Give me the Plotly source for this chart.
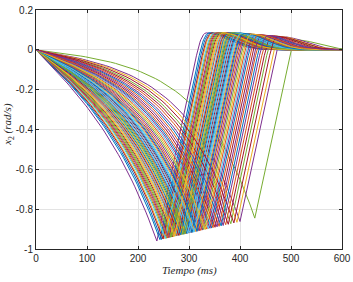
import numpy as np
import plotly.graph_objects as go

# time of each curve's minimum (ms)
t_min = [290, 262, 318, 237, 429, 274, 300, 246, 335, 282,
         400, 256, 308, 268, 344, 294, 251, 326, 382, 278,
         304, 243, 359, 286, 314, 264, 338, 249, 296, 372,
         270, 320, 288, 254, 351, 306, 276, 394, 260, 329,
         298, 280, 363, 258, 312, 341, 266, 302, 377, 284,
         323, 272, 355, 292, 310, 388, 316, 347, 332, 367]
# minimum value of each curve (rad/s)
v_min = [-0.926, -0.942, -0.910, -0.960, -0.845, -0.935, -0.920, -0.952, -0.900, -0.931,
         -0.862, -0.946, -0.916, -0.939, -0.895, -0.924, -0.949, -0.905, -0.873, -0.933,
         -0.918, -0.953, -0.886, -0.928, -0.912, -0.941, -0.898, -0.950, -0.923, -0.878,
         -0.938, -0.909, -0.927, -0.947, -0.891, -0.917, -0.934, -0.866, -0.943, -0.903,
         -0.921, -0.932, -0.884, -0.945, -0.913, -0.896, -0.940, -0.919, -0.876, -0.929,
         -0.907, -0.936, -0.889, -0.925, -0.915, -0.869, -0.911, -0.893, -0.902, -0.882]
# overshoot peak of each curve (rad/s)
v_peak = [0.085, 0.085, 0.081, 0.085, 0.050, 0.085, 0.085, 0.085, 0.078, 0.085,
          0.065, 0.085, 0.083, 0.085, 0.076, 0.085, 0.085, 0.080, 0.069, 0.085,
          0.084, 0.085, 0.073, 0.085, 0.082, 0.085, 0.077, 0.085, 0.085, 0.071,
          0.085, 0.081, 0.085, 0.085, 0.075, 0.084, 0.085, 0.066, 0.085, 0.079,
          0.085, 0.085, 0.072, 0.085, 0.083, 0.077, 0.085, 0.085, 0.070, 0.085,
          0.080, 0.085, 0.074, 0.085, 0.083, 0.067, 0.082, 0.076, 0.079, 0.072]
rise_rate = 0.012      # slope of the recovery ramps (rad/s per ms)
settle_tau = 60.0      # decay time of the overshoot (ms)

x_ticks = [0, 100, 200, 300, 400, 500, 600]
y_ticks = [0.2, 0, -0.2, -0.4, -0.6, -0.8, -1]
y_tick_labels = ["0.2", "0", "-0.2", "-0.4", "-0.6", "-0.8", "-1"]

colors = ["#0072BD", "#D95319", "#EDB120", "#7E2F8E", "#77AC30", "#4DBEEE", "#A2142F"]

fig = go.Figure()
for i, (tm, vm, vp) in enumerate(zip(t_min, v_min, v_peak)):
    k = 0.007 + (tm - 237) * 0.0000104
    td = np.linspace(0, tm, 45)
    vd = vm * np.sinh(k * td) / np.sinh(k * tm)
    v1 = -0.03
    t1 = tm + (v1 - vm) / rise_rate
    tp = t1 + 2 * (vp - v1) / rise_rate
    u = np.linspace(0, 1, 12)[1:]
    tr = t1 + u * (tp - t1)
    vr = v1 + (vp - v1) * (1 - (1 - u) ** 2)
    tdec = np.linspace(tp, 600, 50)[1:]
    vdec = vp * np.exp(-((tdec - tp) / settle_tau) ** 2)
    t = np.concatenate([td, [t1], tr, tdec])
    v = np.concatenate([vd, [v1], vr, vdec])
    fig.add_trace(go.Scatter(x=t, y=v, mode="lines",
                             line=dict(color=colors[i % 7], width=1),
                             showlegend=False, hoverinfo="skip"))

axis_common = dict(showgrid=True, gridcolor="#e3e3e3", gridwidth=1, automargin=False,
                   showline=True, linecolor="#262626", linewidth=1, mirror="ticks",
                   ticks="inside", ticklen=3, tickcolor="#262626", zeroline=False,
                   tickfont=dict(family="Liberation Sans, Arial", size=10, color="#262626"))

fig.update_xaxes(range=[0, 600], tickvals=x_ticks, ticktext=[str(x) for x in x_ticks],
                 **axis_common)
fig.update_yaxes(range=[-1, 0.2], tickvals=y_ticks, ticktext=y_tick_labels,
                 **axis_common)

title_font = dict(family="Liberation Serif, serif", size=11, color="#262626")
fig.add_annotation(text="<i>Tiempo (ms)</i>", xref="paper", yref="paper",
                   x=0.5, y=-0.088, xanchor="center", yanchor="middle",
                   showarrow=False, font=title_font)
fig.add_annotation(text="<i>x</i><sub>2</sub><i> (rad/s)</i>", xref="paper", yref="paper",
                   x=-0.091, y=0.52, xanchor="center", yanchor="middle", textangle=-90,
                   showarrow=False, font=title_font)

fig.update_layout(width=353, height=282, margin=dict(l=36, r=11, t=10, b=33),
                  plot_bgcolor="white", paper_bgcolor="white")

fig.write_html("out.html", config={"displayModeBar": False, "staticPlot": True},
               post_script="document.body.style.margin='0';document.body.style.overflow='hidden';")
